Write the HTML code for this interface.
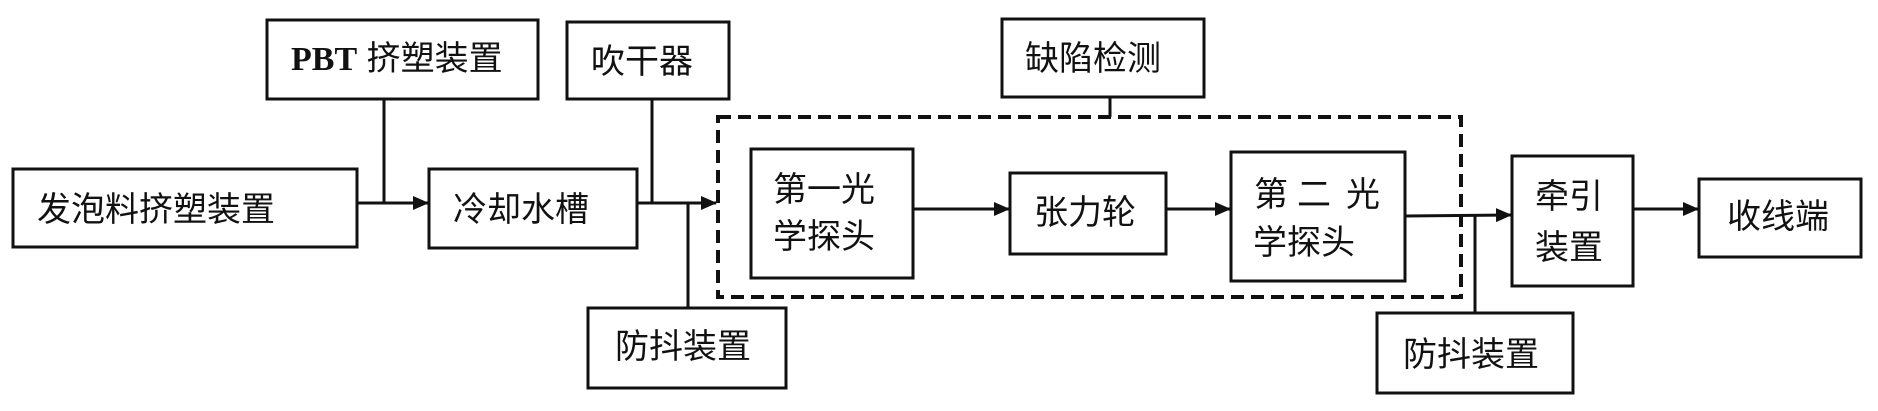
<!DOCTYPE html>
<html><head><meta charset="utf-8">
<style>
html,body{margin:0;padding:0;background:#fff;}
svg{display:block;}
text{font-family:"Liberation Sans","Noto Sans CJK SC","WenQuanYi Zen Hei",sans-serif;font-size:34px;fill:#111;}
</style></head>
<body>
<svg width="1878" height="411" viewBox="0 0 1878 411" xmlns="http://www.w3.org/2000/svg">
<defs>
<marker id="a" markerWidth="16" markerHeight="14" refX="15" refY="7" orient="auto" markerUnits="userSpaceOnUse">
<path d="M0,0 L16,7 L0,14 Z" fill="#111"/>
</marker>
</defs>
<g fill="none" stroke="#111" stroke-width="3">
<rect x="13" y="169" width="344" height="78"/>
<rect x="267" y="20" width="271" height="79"/>
<rect x="567" y="22" width="162" height="77"/>
<rect x="429" y="169" width="208" height="79"/>
<rect x="588" y="308" width="198" height="80"/>
<rect x="751" y="149" width="162" height="129"/>
<rect x="1002" y="19" width="202" height="78"/>
<rect x="1010" y="173" width="156" height="81"/>
<rect x="1231" y="152" width="174" height="129"/>
<rect x="1377" y="313" width="196" height="80"/>
<rect x="1512" y="156" width="121" height="130"/>
<rect x="1699" y="179" width="162" height="78"/>
<rect x="718" y="117" width="743" height="180" stroke-width="4" stroke-dasharray="13,7"/>
<line x1="384" y1="99" x2="384" y2="203"/>
<line x1="357" y1="203" x2="428" y2="203" marker-end="url(#a)"/>
<line x1="652" y1="99" x2="652" y2="203"/>
<line x1="637" y1="203" x2="716" y2="203" marker-end="url(#a)"/>
<line x1="688" y1="204" x2="688" y2="308"/>
<line x1="913" y1="209" x2="1009" y2="209" marker-end="url(#a)"/>
<line x1="1166" y1="209" x2="1230" y2="209" marker-end="url(#a)"/>
<line x1="1110" y1="97" x2="1110" y2="117"/>
<line x1="1405" y1="216" x2="1511" y2="215" marker-end="url(#a)"/>
<line x1="1475" y1="216" x2="1475" y2="313"/>
<line x1="1633" y1="209" x2="1698" y2="209" marker-end="url(#a)"/>
</g>
<text x="37" y="221">发泡料挤塑装置</text>
<text x="291" y="70"><tspan font-family="Liberation Serif, serif" font-weight="bold">PBT</tspan> 挤塑装置</text>
<text x="591" y="73">吹干器</text>
<text x="453" y="221">冷却水槽</text>
<text x="615" y="358">防抖装置</text>
<text x="773" y="201">第一光</text>
<text x="773" y="248">学探头</text>
<text x="1025" y="70">缺陷检测</text>
<text x="1034" y="224">张力轮</text>
<text x="1254" y="206">第</text>
<text x="1297" y="206">二</text>
<text x="1346" y="206">光</text>
<text x="1253" y="254">学探头</text>
<text x="1535" y="208">牵引</text>
<text x="1535" y="259">装置</text>
<text x="1403" y="366">防抖装置</text>
<text x="1727" y="228">收线端</text>
</svg>
</body></html>
